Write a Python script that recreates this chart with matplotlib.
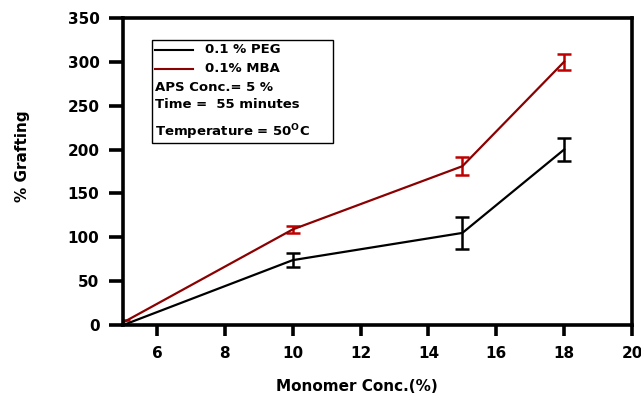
import matplotlib
matplotlib.use("Agg")
import matplotlib.pyplot as plt
from matplotlib.patches import Rectangle
from matplotlib.lines import Line2D

plt.rcParams['font.family'] = ['DejaVu Sans']
plt.rcParams['font.weight'] = 'bold'
plt.rcParams['mathtext.fontset'] = 'custom'
plt.rcParams['mathtext.bf'] = 'DejaVu Sans:bold'
plt.rcParams['mathtext.rm'] = 'DejaVu Sans:bold'

monomer = [5, 10, 15, 18]
peg = [0, 74, 105, 200]
peg_err = [0, 8, 18, 13]
mba = [3, 109, 181, 300]
mba_err = [3, 4, 10, 9]
xticks = [6, 8, 10, 12, 14, 16, 18, 20]
yticks = [0, 50, 100, 150, 200, 250, 300, 350]

fig = plt.figure(figsize=(6.41, 3.96), dpi=100)
ax = fig.add_axes([0.192, 0.179, 0.794, 0.776])

ax.errorbar(monomer, peg, yerr=peg_err, color='black', lw=1.6, capsize=5,
            capthick=1.8, elinewidth=1.8)
ax.errorbar(monomer, mba, yerr=mba_err, color='#8B0000', ecolor='#C00000', lw=1.6,
            capsize=5, capthick=1.8, elinewidth=1.8)

ax.set_xlim(5, 20)
ax.set_ylim(0, 350)
ax.set_xticks(xticks)
ax.set_yticks(yticks)
ax.tick_params(axis='y', direction='out', length=10, width=2.6, labelsize=11, pad=7)
ax.tick_params(axis='x', direction='out', length=8, width=2.6, labelsize=11, pad=7)
for s in ax.spines.values():
    s.set_linewidth(2.6)
ax.set_xlabel('Monomer Conc.(%)', fontsize=11, fontweight='bold')
ax.set_ylabel('% Grafting', fontsize=11, fontweight='bold')
ax.xaxis.set_label_coords(0.46, -0.175)
ax.yaxis.set_label_coords(-0.182, 0.55)

# annotation box
ax.add_patch(Rectangle((0.057, 0.593), 0.356, 0.335, transform=ax.transAxes,
                       fill=False, edgecolor='black', lw=1.0, zorder=5))
ax.add_line(Line2D([0.063, 0.138], [0.896, 0.896], transform=ax.transAxes, color='black', lw=1.5))
ax.add_line(Line2D([0.063, 0.138], [0.834, 0.834], transform=ax.transAxes, color='#8B0000', lw=1.5))
fs = 9.5
ax.text(0.161, 0.896, '0.1 % PEG', transform=ax.transAxes, va='center', fontsize=fs, fontweight='bold')
ax.text(0.161, 0.834, '0.1% MBA', transform=ax.transAxes, va='center', fontsize=fs, fontweight='bold')
ax.text(0.063, 0.772, 'APS Conc.= 5 %', transform=ax.transAxes, va='center', fontsize=fs, fontweight='bold')
ax.text(0.063, 0.717, 'Time =  55 minutes', transform=ax.transAxes, va='center', fontsize=fs, fontweight='bold')
ax.text(0.063, 0.629, r'Temperature = 50$^{\mathbf{O}}$C', transform=ax.transAxes, va='center',
        fontsize=fs, fontweight='bold')

fig.savefig('out.png', dpi=100)
